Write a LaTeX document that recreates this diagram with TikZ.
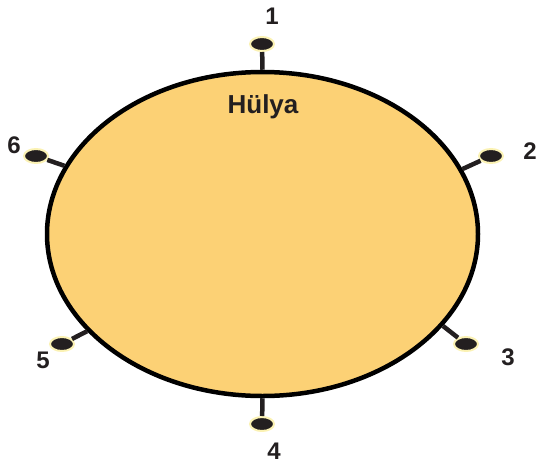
\documentclass[tikz,border=0pt]{standalone}
\usepackage{fontspec}
\setmainfont{Liberation Sans}
\usetikzlibrary{shapes.geometric}
\definecolor{tablefill}{HTML}{FCD175}
\definecolor{darkink}{HTML}{231F20}
\definecolor{halo}{HTML}{FBF2B4}

\begin{document}
\begin{tikzpicture}[x=1pt,y=-1pt,
  seat/.style={ellipse,draw=halo,line width=2pt,fill=darkink,minimum width=24pt,minimum height=14pt,inner sep=0pt},
  num/.style={text=darkink,font=\bfseries\fontsize{24}{24}\selectfont},
  leg/.style={draw=darkink,line width=4.5pt}]
\useasboundingbox (0,0) rectangle (538,464);
\node[ellipse,draw=black,line width=4.5pt,fill=tablefill,minimum width=431pt,minimum height=324pt,inner sep=0pt] (table) at (262.5,234) {};
\node[text=darkink,font=\bfseries\fontsize{26}{26}\selectfont] (name) at (263,107) {Hülya};

\node[seat] (s1) at (262,44) {};
\node[seat] (s2) at (491,156) {};
\node[seat] (s3) at (466,344) {};
\node[seat] (s4) at (262,424) {};
\node[seat] (s5) at (62,344) {};
\node[seat] (s6) at (36,156) {};

\draw[leg] (table.90) -- (s1);
\draw[leg] (table.18) -- (s2);
\draw[leg] (table.-27) -- (s3);
\draw[leg] (table.-90) -- (s4);
\draw[leg] (table.209) -- (s5);
\draw[leg] (table.161) -- (s6);

\node[num] (l1) at (272,16) {1};
\node[num] (l2) at (530,151) {2};
\node[num] (l3) at (508,357) {3};
\node[num] (l4) at (274,451) {4};
\node[num] (l5) at (43,360) {5};
\node[num] (l6) at (14,145) {6};
\end{tikzpicture}
\end{document}
